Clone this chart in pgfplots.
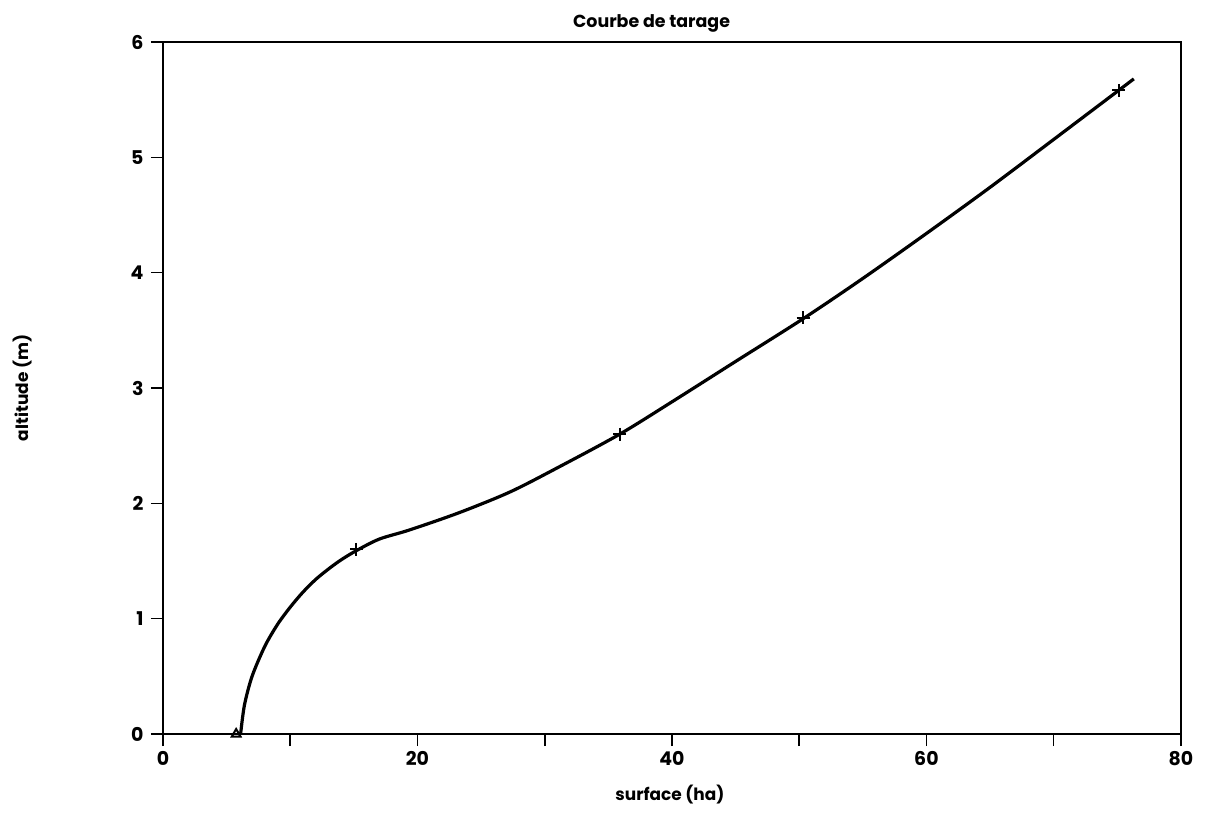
\documentclass[border=0pt]{standalone}
\usepackage{pgfplots}
\pgfplotsset{compat=1.18}
\usepackage{fontspec}
\setmainfont{Poppins}
\begin{document}
\begin{tikzpicture}
\useasboundingbox (-163bp,-103bp) rectangle (1045bp,734bp);
\begin{axis}[
  at={(0,0)}, anchor=south west,
  scale only axis, width=1018bp, height=692bp,
  xmin=0, xmax=80, ymin=0, ymax=6,
  xtick={0,10,...,80}, xticklabels={0,,20,,40,,60,,80},
  ytick={0,1,2,3,4,5,6},
  tick pos=left, tick align=outside, major tick length=12bp,
  axis line style={line width=1.6bp},
  every tick/.style={line width=1.6bp, black},
  /pgf/number format/assume math mode=true,
  tick label style={font=\fontsize{19}{19}\selectfont\bfseries},
  xticklabel style={yshift=-2bp},
  yticklabel style={xshift=-4bp},
  title={Courbe de tarage},
  title style={font=\fontsize{17.5}{17.5}\selectfont\bfseries, at={(axis description cs:0.48,1)}, anchor=south, yshift=0bp},
  xlabel={surface (ha)},
  xlabel style={font=\fontsize{17}{17}\selectfont\bfseries, at={(axis description cs:0.498,-0.088)}, anchor=center},
  ylabel={altitude (m)},
  ylabel style={font=\fontsize{17}{17}\selectfont\bfseries, at={(axis description cs:-0.138,0.5)}, anchor=center},
  clip=false,
]
\addplot[smooth, line width=3.2bp, black, no marks] coordinates {
(6.1,0) (6.4,0.25) (7,0.5) (8,0.76) (9,0.95) (10,1.1) (11,1.23) (12,1.34)
(13,1.43) (14,1.51) (15.2,1.59) (17,1.69) (19.4,1.77) (23.3,1.92) (27.3,2.10)
(31.2,2.32) (35.9,2.6) (40,2.88) (45,3.23) (50.3,3.6) (55,3.95)
(60,4.34) (65,4.74) (70,5.155) (75.1,5.58) (76.3,5.68)
};
\addplot[only marks, mark=+, mark size=6.5bp, line width=2bp, black] coordinates {
(15.2,1.6) (35.9,2.6) (50.3,3.61) (75.1,5.58)
};
\addplot[only marks, mark=triangle, mark size=5bp, line width=2bp, black] coordinates {
(5.75,0)
};
\end{axis}
\end{tikzpicture}
\end{document}
